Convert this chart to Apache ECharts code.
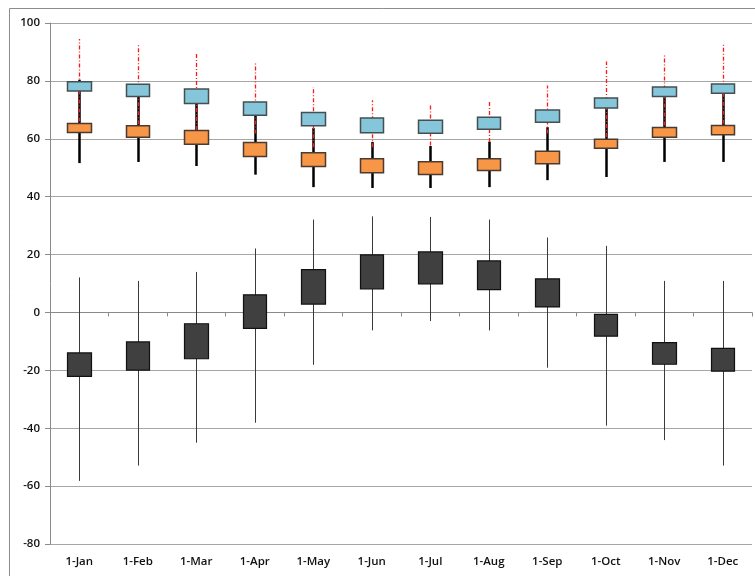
<!DOCTYPE html>
<html>
<head>
<meta charset="utf-8">
<script src="https://cdn.jsdelivr.net/npm/echarts@6/dist/echarts.min.js"></script>
<style>html,body{margin:0;padding:0;background:#fff;}#c{width:755px;height:576px;}</style>
</head>
<body>
<div id="c"></div>
<script>
const months = ['1-Jan','1-Feb','1-Mar','1-Apr','1-May','1-Jun','1-Jul','1-Aug','1-Sep','1-Oct','1-Nov','1-Dec'];
const yTicks = [-80, 100, 20];

const blueBottom = [76.5, 74.6, 72.2, 68.1, 64.5, 62.1, 61.9, 63.3, 65.7, 70.6, 74.6, 75.7];
const blueTop    = [79.7, 78.8, 77.2, 72.7, 69.1, 67.2, 66.4, 67.4, 69.9, 74.1, 77.9, 78.9];
const blueHigh   = [94.5, 92.6, 89.4, 86.5, 77.9, 73.3, 71.8, 73.3, 78.4, 86.7, 88.8, 92.8];
const blueLow    = [66.0, 65.0, 63.0, 61.8, 57.1, 57.1, 57.7, 58.9, 61.8, 60.6, 64.6, 65.2];

const orangeBottom = [62.2, 60.5, 58.1, 53.9, 50.4, 48.3, 47.7, 49.0, 51.4, 56.7, 60.5, 61.4];
const orangeTop    = [65.3, 64.5, 62.9, 58.7, 55.2, 53.1, 52.1, 53.1, 55.7, 59.8, 63.9, 64.6];
const orangeLow    = [51.6, 52.0, 50.6, 47.6, 43.3, 43.0, 43.0, 43.3, 45.7, 46.8, 52.0, 52.0];
const orangeHigh   = [80.4, 78.0, 75.0, 70.0, 63.7, 58.9, 57.5, 59.0, 64.0, 72.1, 74.4, 75.6];

const darkTop    = [-14.0, -10.2, -3.9, 6.1, 14.8, 19.9, 20.9, 17.8, 11.6, -0.7, -10.4, -12.4];
const darkBottom = [-22.1, -19.9, -16.0, -5.5, 2.9, 8.1, 9.9, 7.9, 1.9, -8.2, -17.9, -20.3];
const darkHigh   = [12.1, 10.9, 14.0, 22.1, 32.1, 33.2, 33.0, 32.1, 25.9, 23.0, 10.9, 10.9];
const darkLow    = [-58.2, -52.9, -45.0, -38.1, -18.1, -6.2, -3.0, -6.2, -19.1, -39.1, -44.1, -52.9];

const FONT = 'Open Sans';

function whisker(color, width, dash) {
  return function (params, api) {
    const x = api.value(0);
    const p1 = api.coord([x, api.value(1)]);
    const p2 = api.coord([x, api.value(2)]);
    return {
      type: 'line',
      shape: { x1: Math.round(p1[0]) + 0.5, y1: p1[1], x2: Math.round(p2[0]) + 0.5, y2: p2[1] },
      style: { stroke: color, lineWidth: width, lineDash: dash || null }
    };
  };
}

const chart = echarts.init(document.getElementById('c'), null, { renderer: 'canvas' });
chart.setOption({
  animation: false,
  backgroundColor: '#fff',
  graphic: [{
    type: 'rect', silent: true, z: -10,
    shape: { x: 9.5, y: 8.5, width: 800, height: 700 },
    style: { fill: 'none', stroke: '#8c8c8c', lineWidth: 1 }
  }],
  grid: { left: 50, right: 3, top: 23, bottom: 32, containLabel: false },
  xAxis: [{
    type: 'category', data: months, boundaryGap: true,
    axisLine: { onZero: true, lineStyle: { color: '#8a8a8a', width: 1 } },
    axisTick: { show: true, length: 4, inside: false, lineStyle: { color: '#8a8a8a' } },
    axisLabel: { show: false },
    splitLine: { show: false }
  }, {
    type: 'category', data: months, position: 'bottom', boundaryGap: true,
    axisLine: { show: false, onZero: false }, axisTick: { show: false },
    axisLabel: { show: true, margin: 12, fontFamily: FONT, fontSize: 11.5, color: '#111', fontWeight: 600 },
    splitLine: { show: false }
  }],
  yAxis: {
    type: 'value', min: yTicks[0], max: yTicks[1], interval: yTicks[2],
    axisLine: { show: true, lineStyle: { color: '#8a8a8a' } },
    axisTick: { show: true, length: 5, lineStyle: { color: '#8a8a8a' } },
    axisLabel: { fontFamily: FONT, fontSize: 11.5, color: '#111', fontWeight: 600, margin: 10 },
    splitLine: { show: true, lineStyle: { color: '#a6a6a6', width: 1 } }
  },
  series: [
    {
      type: 'custom', xAxisIndex: 0, z: 2,
      renderItem: whisker('#000', 2.5),
      data: months.map((m, i) => [i, orangeLow[i], orangeHigh[i]])
    },
    {
      type: 'custom', xAxisIndex: 0, z: 3,
      renderItem: whisker('#ff1a1a', 1.3, [4, 2, 1, 2]),
      data: months.map((m, i) => [i, blueLow[i], blueHigh[i]])
    },
    {
      type: 'custom', xAxisIndex: 0, z: 2,
      renderItem: whisker('#3a3a3a', 1),
      data: months.map((m, i) => [i, darkLow[i], darkHigh[i]])
    },
    {
      type: 'candlestick', xAxisIndex: 0, z: 5, barWidth: 24,
      itemStyle: { color: '#86c6da', color0: '#86c6da', borderColor: '#454f52', borderColor0: '#454f52', borderWidth: 1.5 },
      data: months.map((m, i) => [blueBottom[i], blueTop[i], blueBottom[i], blueTop[i]])
    },
    {
      type: 'candlestick', xAxisIndex: 0, z: 5, barWidth: 24,
      itemStyle: { color: '#f79646', color0: '#f79646', borderColor: '#4a3a30', borderColor0: '#4a3a30', borderWidth: 1.5 },
      data: months.map((m, i) => [orangeBottom[i], orangeTop[i], orangeBottom[i], orangeTop[i]])
    },
    {
      type: 'candlestick', xAxisIndex: 0, z: 5, barWidth: 24,
      itemStyle: { color: '#404040', color0: '#404040', borderColor: '#111', borderColor0: '#111', borderWidth: 1.2 },
      data: months.map((m, i) => [darkBottom[i], darkTop[i], darkBottom[i], darkTop[i]])
    }
  ]
});
</script>
</body>
</html>
